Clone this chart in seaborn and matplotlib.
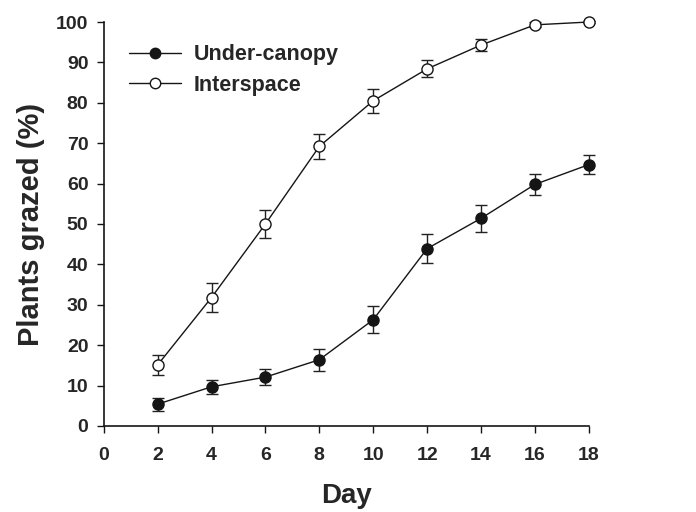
import matplotlib
matplotlib.use("Agg")
import matplotlib.pyplot as plt
import seaborn as sns
import pandas as pd
import numpy as np
from matplotlib.lines import Line2D

days = [2, 4, 6, 8, 10, 12, 14, 16, 18]
under_canopy = [5.4, 9.7, 12.1, 16.4, 26.3, 43.9, 51.4, 59.8, 64.7]
under_canopy_err = [1.6, 1.7, 2.0, 2.7, 3.3, 3.6, 3.4, 2.5, 2.4]
interspace = [15.1, 31.8, 50.0, 69.2, 80.5, 88.4, 94.3, 99.3, 100.0]
interspace_err = [2.4, 3.5, 3.4, 3.2, 3.0, 2.1, 1.5, 0.6, 0.3]
series_names = ["Under-canopy", "Interspace"]
x_ticks = [0, 2, 4, 6, 8, 10, 12, 14, 16, 18]
y_ticks = [0, 10, 20, 30, 40, 50, 60, 70, 80, 90, 100]

df = pd.DataFrame({
    "Day": days * 2,
    "value": under_canopy + interspace,
    "err": under_canopy_err + interspace_err,
    "series": [series_names[0]] * len(days) + [series_names[1]] * len(days),
})

sns.set_style("ticks")
plt.rcParams['font.family'] = ['Liberation Sans', 'DejaVu Sans']
plt.rcParams['font.weight'] = 'bold'

fig = plt.figure(figsize=(6.96, 5.12), dpi=100)
ax = fig.add_axes([0.149, 0.168, 0.697, 0.789])

ink = "#151515"
face = {series_names[0]: ink, series_names[1]: "white"}
for name in series_names:
    sub = df[df.series == name]
    eb = ax.errorbar(sub["Day"], sub["value"], yerr=sub["err"], fmt="none",
                     ecolor="#222222", elinewidth=1.0, capsize=4.5, capthick=1.0, zorder=2)
    for art in eb.lines[1] + eb.lines[2]:
        art.set_clip_on(False)

sns.lineplot(data=df, x="Day", y="value", hue="series", hue_order=series_names,
             palette={series_names[0]: ink, series_names[1]: ink},
             marker="o", markersize=8, markeredgecolor=ink, markeredgewidth=1.0,
             linewidth=1.0, ax=ax, zorder=3, legend=False)

for line, name in zip(ax.get_lines()[-2:], series_names):
    line.set_markerfacecolor(face[name])
    line.set_clip_on(False)

handles = [Line2D([], [], color=ink, lw=1.0, marker="o", markersize=7.5,
                  markerfacecolor=face[n], markeredgecolor=ink) for n in series_names]
leg = ax.legend(handles, series_names, loc="upper left", bbox_to_anchor=(0.052, 0.945),
                frameon=False, handlelength=2.4, handletextpad=0.6,
                labelspacing=0.45, borderpad=0, borderaxespad=0,
                prop={'weight': 'bold', 'size': 15.5})

ax.set_xlim(0, 18)
ax.set_ylim(0, 100)
ax.set_xticks(x_ticks)
ax.set_yticks(y_ticks)
ax.tick_params(axis="both", direction="out", length=5, width=1.0, labelsize=14, color=ink)
ax.tick_params(axis="x", pad=10)
ax.tick_params(axis="y", pad=6)
for lab in ax.get_xticklabels() + ax.get_yticklabels():
    lab.set_fontweight("bold")
ax.set_xlabel("Day", fontsize=20, fontweight="bold", labelpad=14)
ax.set_ylabel("Plants grazed (%)", fontsize=21, fontweight="bold", labelpad=8)
sns.despine(ax=ax)
for sp in ["left", "bottom"]:
    ax.spines[sp].set_linewidth(1.2)
    ax.spines[sp].set_color(ink)

fig.savefig("out.png", dpi=100)
